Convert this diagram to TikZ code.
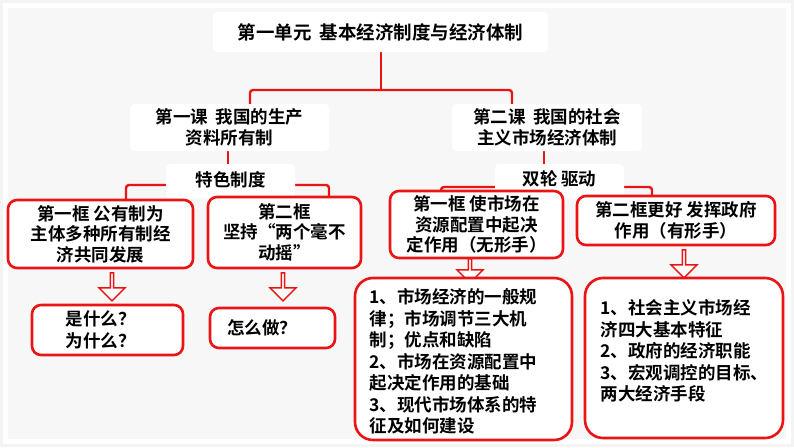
\documentclass[tikz,border=0pt]{standalone}
\usepackage{fontspec}
\setmainfont{Noto Sans CJK SC Bold}
\usetikzlibrary{shapes.arrows}
\definecolor{rd}{RGB}{235,20,20}
\tikzset{
 wbox/.style={fill=white,rounded corners=4pt,inner sep=0pt},
 rbox/.style={fill=white,draw=rd,line width=2.6pt,rounded corners=9pt,inner sep=0pt},
 conn/.style={draw=rd,line width=2.4pt,rounded corners=3pt},
 hol/.style={single arrow,draw=rd,fill=white,line width=1.4pt,shape border rotate=270,minimum width=26pt,single arrow head extend=5pt,single arrow tip angle=90,inner sep=0pt},
 txt/.style={font=\fontsize{17.5}{20.5}\selectfont,align=center},
 txl/.style={font=\fontsize{17.5}{21.5}\selectfont,align=left}
}
\begin{document}
\begin{tikzpicture}[x=1pt,y=-1pt]
\fill[gray!9] (0,0) rectangle (794,447);
\fill[white] (3,3) rectangle (791,444);
\fill[gray!6] (8,8) rectangle (786,439);
% connectors
\coordinate (c1) at (381,90);
\draw[conn] (381,52) -- (c1);
\draw[conn] (250,105) -- (250,90) -- (512,90) -- (512,105);
\draw[conn] (228,151) -- (228,165);
\draw[conn] (126,208) -- (126,185) -- (329,185) -- (329,208);
\draw[conn] (544,151) -- (544,165);
\draw[conn] (441,208) -- (441,187) -- (652,187) -- (652,208);
% boxes
\path[wbox,fill=white] (213,12) rectangle (548,52);
\node[txt,font=\fontsize{18.5}{21}\selectfont] (t) at (380.5,32) {第一单元\ \ 基本经济制度与经济体制};
\path[wbox] (130,104) rectangle (329,151);
\node[txt] (l1) at (229.5,127.5) {第一课\ \ 我国的生产\\资料所有制};
\path[wbox] (452,104) rectangle (642,151);
\node[txt] (l2) at (547,127.5) {第二课\ \ 我国的社会\\主义市场经济体制};
\path[wbox] (166,164) rectangle (295,198);
\node[txt] (s1) at (230.5,180) {特色制度};
\path[wbox] (495,164) rectangle (624,198);
\node[txt] (s2) at (559.5,179) {双轮 驱动};
\draw[rbox] (8,200) rectangle (193,268);
\node[txt] (a) at (100.5,234) {第一框 公有制为\\主体多种所有制经\\济共同发展};
\draw[rbox] (208,197) rectangle (361,268);
\node[txt] (b) at (284.5,232) {第二框\\坚持“两个毫不\\动摇”};
\draw[rbox] (390,191) rectangle (563,258);
\node[txt] (c) at (476.5,224.5) {第一框 使市场在\\资源配置中起决\\定作用（无形手）};
\draw[rbox] (577,196) rectangle (775,245);
\node[txt] (d) at (676,220.5) {第二框更好 发挥政府\\作用（有形手）};
% hollow arrows
\node[hol,minimum height=28pt] (ha) at (112,286) {};
\node[hol,minimum height=28pt] (hb) at (283,286) {};
\node[hol,minimum height=24pt] (hc) at (470,270) {};
\node[hol,minimum height=28pt] (hd) at (684,263) {};
% bottom boxes
\draw[rbox] (32,305) rectangle (183,355);
\node[txl] (e) at (62,330) [anchor=west] {是什么？\\为什么？};
\draw[rbox] (210,308) rectangle (335,348);
\node[txt] (f) at (262,328) {怎么做？};
\draw[rbox,rounded corners=18pt] (355,278) rectangle (572,440);
\node[txl,anchor=north west] (g) at (366,285) {1、市场经济的一般规\\律；市场调节三大机\\制；优点和缺陷\\2、市场在资源配置中\\起决定作用的基础\\3、现代市场体系的特\\征及如何建设};
\draw[rbox,rounded corners=18pt] (585,278) rectangle (783,438);
\node[txl,anchor=north west] (h) at (597,296) {1、社会主义市场经\\济四大基本特征\\2、政府的经济职能\\3、宏观调控的目标、\\两大经济手段};
\end{tikzpicture}
\end{document}
